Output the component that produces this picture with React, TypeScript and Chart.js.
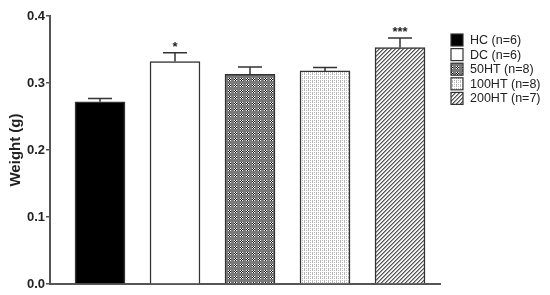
import React, { useEffect, useRef } from "react";
import { Chart, registerables } from "chart.js";

Chart.register(...registerables);

const groups = ["HC (n=6)", "DC (n=6)", "50HT (n=8)", "100HT (n=8)", "200HT (n=7)"];
const means = [0.272, 0.332, 0.313, 0.318, 0.353];
const errors = [0.005, 0.013, 0.011, 0.005, 0.014];
const stars = ["", "*", "", "", "***"];
const yTicks = [0, 0.1, 0.2, 0.3, 0.4];

function makeTile(w: number, h: number, draw: (c: CanvasRenderingContext2D) => void) {
  const cv = document.createElement("canvas");
  cv.width = w;
  cv.height = h;
  const c = cv.getContext("2d")!;
  draw(c);
  return cv;
}

function makeFills(ctx: CanvasRenderingContext2D): (string | CanvasPattern)[] {
  const checker = makeTile(6, 6, (c) => {
    c.fillStyle = "#7a7a7a";
    c.fillRect(0, 0, 6, 6);
    for (let i = 0; i < 3; i++)
      for (let j = 0; j < 3; j++) {
        c.fillStyle = (i + j) % 2 === 0 ? "#ffffff" : "#111111";
        c.fillRect(i, j, 1, 1);
      }
  });
  const dots = makeTile(4, 4, (c) => {
    c.fillStyle = "#ffffff";
    c.fillRect(0, 0, 4, 4);
    c.fillStyle = "#b8b8b8";
    c.fillRect(0, 0, 1, 1);
    c.fillRect(2, 0, 1, 1);
    c.fillRect(0, 1, 1, 1);
    c.fillRect(0, 2, 1, 1);
    c.fillRect(2, 2, 1, 1);
  });
  const hatch = makeTile(4, 4, (c) => {
    c.fillStyle = "#f2f2f2";
    c.fillRect(0, 0, 4, 4);
    for (let i = 0; i < 4; i++) {
      c.fillStyle = "#555555";
      c.fillRect(i, 3 - i, 1, 1);
      c.fillStyle = "#9a9a9a";
      c.fillRect((i + 1) % 4, 3 - i, 1, 1);
    }
  });
  return [
    "#000000",
    "#ffffff",
    ctx.createPattern(checker, "repeat")!,
    ctx.createPattern(dots, "repeat")!,
    ctx.createPattern(hatch, "repeat")!,
  ];
}

export default function App() {
  const ref = useRef<HTMLCanvasElement>(null);
  useEffect(() => {
    const canvas = ref.current!;
    const ctx = canvas.getContext("2d")!;
    const fills = makeFills(ctx);

    const extras = {
      id: "extras",
      afterDatasetsDraw(chart: any) {
        const c = chart.ctx;
        const xs = chart.scales.x;
        const ys = chart.scales.y;
        c.save();
        c.strokeStyle = "#333333";
        c.lineWidth = 1.5;
        means.forEach((m, i) => {
          const x = xs.getPixelForValue(i);
          const y0 = ys.getPixelForValue(m);
          const y1 = ys.getPixelForValue(m + errors[i]);
          c.beginPath();
          c.moveTo(x, y0);
          c.lineTo(x, y1);
          c.moveTo(x - 12, y1);
          c.lineTo(x + 12, y1);
          c.stroke();
          if (stars[i]) {
            c.fillStyle = "#222";
            c.font = "bold 13px 'Liberation Sans', Arial, sans-serif";
            c.textAlign = "center";
            c.textBaseline = "alphabetic";
            c.fillText(stars[i], x, y1 - 2);
          }
        });
        // legend
        const lx = 451;
        const ly = 34;
        const step = 14.6;
        c.font = "12.5px 'Liberation Sans', Arial, sans-serif";
        c.textAlign = "left";
        c.textBaseline = "middle";
        groups.forEach((g, i) => {
          const y = ly + i * step;
          c.fillStyle = fills[i] as any;
          c.fillRect(lx, y, 12, 12);
          c.strokeStyle = "#333";
          c.lineWidth = 1.2;
          c.strokeRect(lx, y, 12, 12);
          c.fillStyle = "#222";
          c.fillText(g, 470, y + 6.5);
        });
        c.restore();
      },
    };

    const chart = new Chart(canvas, {
      type: "bar",
      data: {
        datasets: [
          {
            data: means.map((m, i) => ({ x: i, y: m })),
            backgroundColor: fills as any,
            borderColor: "#333333",
            borderWidth: 1.5,
            barThickness: 50,
          },
        ],
      },
      options: {
        responsive: false,
        animation: false,
        devicePixelRatio: 1,
        layout: { padding: { left: 0, top: 16, right: 110, bottom: 0 } },
        plugins: { legend: { display: false }, tooltip: { enabled: false } },
        scales: {
          x: {
            type: "linear",
            offset: false,
            min: -0.6667,
            max: 4.5333,
            ticks: { display: false },
            grid: { display: true, offset: false, drawOnChartArea: false, drawTicks: false },
            border: { display: true, color: "#555555", width: 2 },
            afterFit: (s: any) => {
              s.height = 11;
            },
          },
          y: {
            min: 0,
            max: 0.4,
            afterBuildTicks: (s: any) => {
              s.ticks = yTicks.map((v) => ({ value: v }));
            },
            ticks: {
              color: "#222",
              padding: 1,
              font: { family: "'Liberation Sans', Arial, sans-serif", size: 13, weight: "bold" },
              callback: (v: any) => Number(v).toFixed(1),
            },
            grid: { drawOnChartArea: false, drawTicks: true, tickLength: 4, color: "#555555", lineWidth: 1.5 },
            border: { display: true, color: "#555555", width: 2 },
            title: {
              display: true,
              text: "Weight (g)",
              color: "#222",
              font: { family: "'Liberation Sans', Arial, sans-serif", size: 15, weight: "bold" },
              padding: { top: 7, bottom: 0 },
            },
            afterFit: (s: any) => {
              s.width = 50;
            },
          },
        },
      },
      plugins: [extras],
    });
    return () => chart.destroy();
  }, []);
  return (
    <div style={{ position: "absolute", left: 0, top: 0, width: 550, height: 295, background: "#fff" }}>
      <canvas ref={ref} width={550} height={295} />
    </div>
  );
}
